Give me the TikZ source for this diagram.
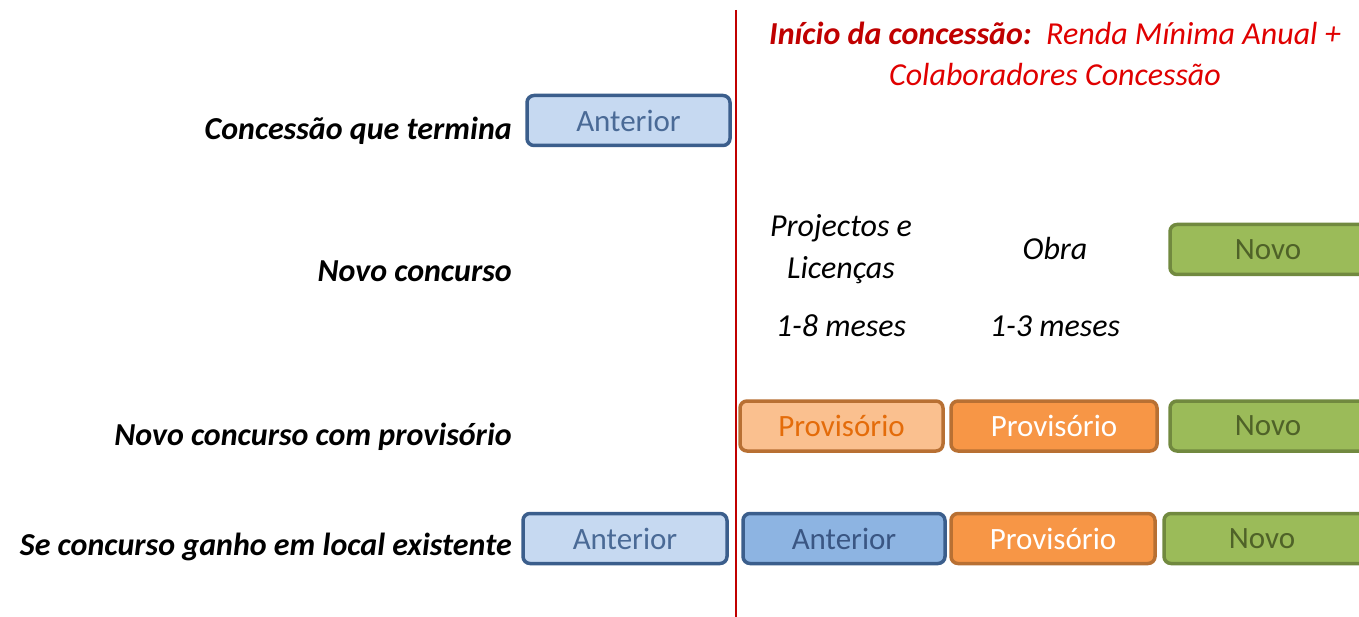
\documentclass[tikz,border=0pt]{standalone}
\usepackage{fontspec}
\setmainfont{Carlito}
\definecolor{lbfill}{HTML}{C6D9F1}
\definecolor{bborder}{HTML}{3B5E8C}
\definecolor{lbtext}{HTML}{4A6A96}
\definecolor{mbfill}{HTML}{8DB4E2}
\definecolor{mbtext}{HTML}{3A5683}
\definecolor{lofill}{HTML}{FAC08F}
\definecolor{oborder}{HTML}{B87033}
\definecolor{lotext}{HTML}{E46C0A}
\definecolor{ofill}{HTML}{F79646}
\definecolor{gfill}{HTML}{9BBB59}
\definecolor{gborder}{HTML}{71893F}
\definecolor{gtext}{HTML}{4F6228}
\definecolor{redline}{HTML}{C00000}
\definecolor{redtext}{HTML}{E00000}
\tikzset{
  box/.style={rounded corners=7pt, line width=3.5pt, minimum height=50pt, font=\fontsize{31}{36}\selectfont, inner sep=0pt},
  antl/.style={box, draw=bborder, fill=lbfill, text=lbtext},
  antm/.style={box, draw=bborder, fill=mbfill, text=mbtext},
  provl/.style={box, draw=oborder, fill=lofill, text=lotext},
  provd/.style={box, draw=oborder, fill=ofill, text=white},
  novo/.style={box, draw=gborder, fill=gfill, text=gtext},
  rowlabel/.style={anchor=east, font=\fontsize{32}{36}\selectfont\bfseries\itshape, inner sep=0pt},
  midtext/.style={font=\fontsize{32}{36}\selectfont\itshape, inner sep=0pt},
}
\begin{document}
\begin{tikzpicture}[x=1pt,y=-1pt]
\clip (0,0) rectangle (1359,617);
\fill[white] (0,0) rectangle (1359,617);
% red vertical line
\coordinate (ltop) at (736,10);
\coordinate (lbot) at (736,617);
\draw[redline, line width=2.8pt] (ltop) -- (lbot);
% title
\node[font=\fontsize{32}{36}\selectfont, text=redtext, inner sep=0pt] (t1) at (1055,33) {\textcolor{redline}{\bfseries\itshape Início da concessão:}\ \ \itshape Renda Mínima Anual +};
\node[font=\fontsize{32}{36}\selectfont\itshape, text=redtext, inner sep=0pt] (t2) at (1055,75) {Colaboradores Concessão};
% row labels
\node[rowlabel] (r1) at (512,131) {Concessão que termina};
\node[rowlabel] (r2) at (512,271) {Novo concurso};
\node[rowlabel] (r3) at (512,437) {Novo concurso com provisório};
\node[rowlabel] (r4) at (512,547) {Se concurso ganho em local existente};
% middle texts
\node[midtext] (m1) at (841,228) {Projectos e};
\node[midtext] (m2) at (841,270) {Licenças};
\node[midtext] (m3) at (841,326) {1-8 meses};
\node[midtext] (m4) at (1055,249) {Obra};
\node[midtext] (m5) at (1055,326) {1-3 meses};
% row 1
\node[antl, minimum width=203pt] (a1) at (628.5,120.5) {Anterior};
% row 2
\node[novo, minimum width=220pt] (n2) at (1280,249.5) {};
\node[text=gtext, font=\fontsize{31}{36}\selectfont, inner sep=0pt] (n2t) at (1268,249.5) {Novo};
% row 3
\node[provl, minimum width=203pt] (p3a) at (841.5,426) {Provisório};
\node[provd, minimum width=206pt] (p3b) at (1054,426) {Provisório};
\node[novo, minimum width=220pt] (n3) at (1280,426) {};
\node[text=gtext, font=\fontsize{31}{36}\selectfont, inner sep=0pt] (n3t) at (1268,426) {Novo};
% row 4
\node[antl, minimum width=204pt] (a4) at (625,538.5) {Anterior};
\node[antm, minimum width=202pt] (a4b) at (844,538.5) {Anterior};
\node[provd, minimum width=204pt] (p4) at (1053,538.5) {Provisório};
\node[novo, minimum width=226pt] (n4) at (1277,538.5) {};
\node[text=gtext, font=\fontsize{31}{36}\selectfont, inner sep=0pt] (n4t) at (1262,538.5) {Novo};
\end{tikzpicture}
\end{document}
